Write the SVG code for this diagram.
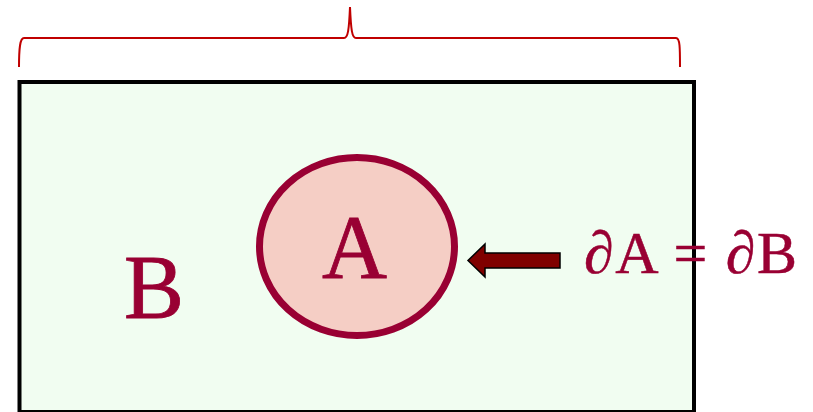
<svg xmlns="http://www.w3.org/2000/svg" width="813" height="412" viewBox="0 0 813 412">
<style>
.lbl{font-family:"Liberation Serif","Times New Roman",serif;fill:#990033;stroke:#990033}
</style>
<rect width="813" height="412" fill="#ffffff"/>
<g id="brace">
<path d="M19,67 C19,48 20,38 24,38 L344,38 C348,38 349,30 350,7 C351,30 352,38 356,38 L676,38 C680,38 680,48 680,67" fill="none" stroke="#C00000" stroke-width="2"/>
</g>
<g id="B">
<rect x="19.5" y="82" width="674.5" height="330" fill="#F1FDF1" stroke="#000000" stroke-width="4"/>
<text class="lbl" x="124" y="318" font-size="90" stroke-width="0.8">B</text>
</g>
<g id="A">
<ellipse cx="357" cy="246.5" rx="97.5" ry="89" fill="#F5CEC5" stroke="#990033" stroke-width="7"/>
<text class="lbl" x="354.5" y="278" font-size="90" text-anchor="middle" stroke-width="0.8">A</text>
</g>
<g id="connectors">
<path d="M560,253 L485,253 L485,244 L468,260.5 L485,277 L485,268 L560,268 Z" fill="#800000" stroke="#000000" stroke-width="1.5" stroke-linejoin="miter"/>
</g>
<g id="label">
<text class="lbl" x="584" y="273" font-size="60" stroke-width="0.5" textLength="213" lengthAdjust="spacing">∂A = ∂B</text>
</g>
</svg>
